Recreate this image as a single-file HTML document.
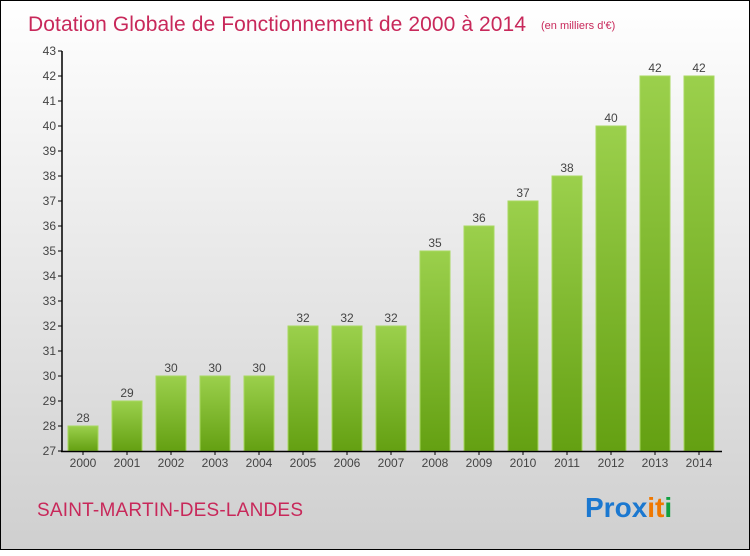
<!DOCTYPE html>
<html><head><meta charset="utf-8"><style>
body{margin:0;width:750px;height:550px;overflow:hidden;font-family:"Liberation Sans",sans-serif}
#c{position:absolute;left:0;top:0;width:748px;height:548px;border:1px solid #000;background:linear-gradient(#fff,#cfcfcf)}
</style></head><body>
<div id="c">
<svg width="750" height="550" id="svg">
<defs><linearGradient id="g" x1="0" y1="0" x2="0" y2="1"><stop offset="0" stop-color="#9bd04c"/><stop offset="1" stop-color="#64a012"/></linearGradient></defs>
<text x="27" y="30" font-size="21" fill="#c8285a" textLength="498">Dotation Globale de Fonctionnement de 2000 à 2014</text>
<text x="540" y="28" font-size="11" fill="#c8285a">(en milliers d'€)</text>
<text x="36" y="515" font-size="19" fill="#c8285a" textLength="266">SAINT-MARTIN-DES-LANDES</text>
<g font-size="28" font-weight="bold"><text x="584" y="516" fill="#1b78d0">Pro<tspan fill="#1b78d0">x</tspan><tspan fill="#f07800">i</tspan><tspan fill="#f07800">t</tspan><tspan fill="#10a040">i</tspan></text></g>
<g id="bars"></g><g id="axes"></g>
</svg></div>
<script>
const years=["2000","2001","2002","2003","2004","2005","2006","2007","2008","2009","2010","2011","2012","2013","2014"];
const values=[28,29,30,30,30,32,32,32,35,36,37,38,40,42,42];
const yTicks=[27,28,29,30,31,32,33,34,35,36,37,38,39,40,41,42,43];
const NS="http://www.w3.org/2000/svg";
const y=v=>450-(v-27)*25, x=i=>82+i*44;
const bars=document.getElementById('bars'),axes=document.getElementById('axes');
function mk(tag,a,p){const e=document.createElementNS(NS,tag);for(const k in a)e.setAttribute(k,a[k]);p.appendChild(e);return e;}
values.forEach((v,i)=>{
 const r=mk('rect',{x:x(i)-15,y:y(v),width:30,height:450-y(v),fill:'url(#g)',stroke:'#a8d860','stroke-width':1},bars);
 
 
 const t=mk('text',{x:x(i),y:y(v)-4,'text-anchor':'middle','font-size':12,fill:'#444'},bars);
 t.textContent=v;
 
 
 const xl=mk('text',{x:x(i),y:466,'text-anchor':'middle','font-size':12,fill:'#444'},axes);
 xl.textContent=years[i];
 
 
 mk('line',{x1:x(i),x2:x(i),y1:450,y2:454,stroke:'#000'},axes);
});
yTicks.forEach(v=>{
 mk('line',{x1:57,x2:61,y1:y(v),y2:y(v),stroke:'#000'},axes);
 const t=mk('text',{x:55,y:y(v)+4,'text-anchor':'end','font-size':12,fill:'#444'},axes);
 t.textContent=v;
 
 
});
const ya=mk('line',{x1:61,x2:61,y1:50,y2:451,stroke:'#000','stroke-width':1.5},axes);


const xa=mk('line',{x1:60,x2:721,y1:450.5,y2:450.5,stroke:'#000','stroke-width':1.5},axes);


</script></body></html>
